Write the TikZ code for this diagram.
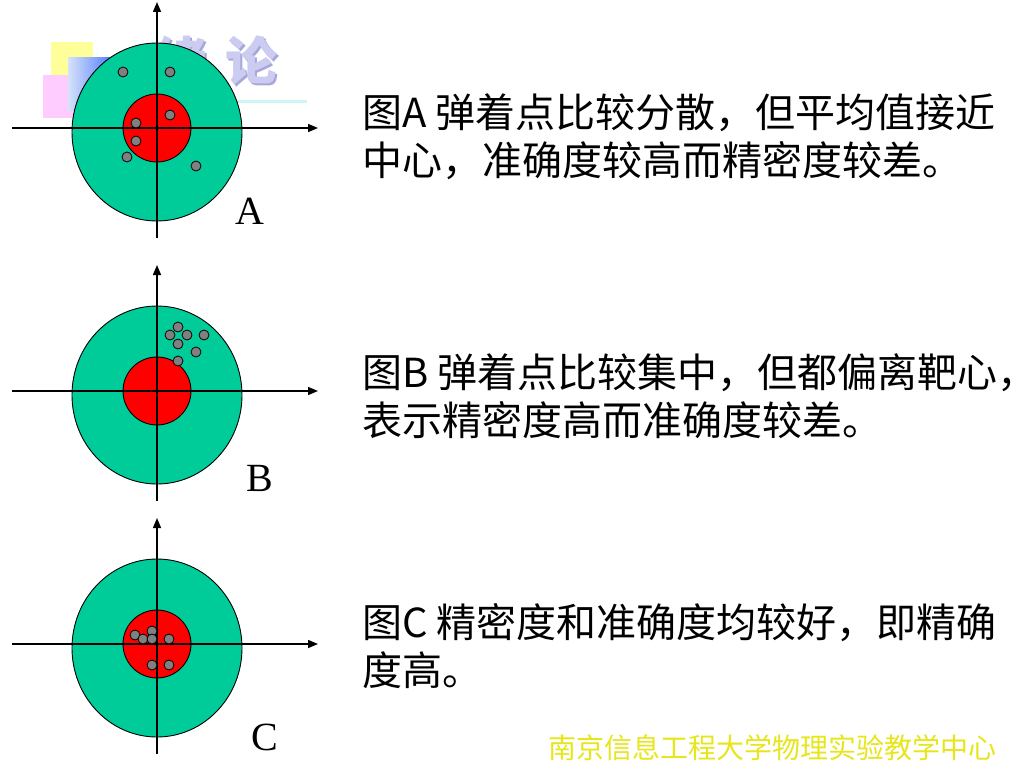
\documentclass[tikz,border=0pt]{standalone}
\usepackage{fontspec}
\setmainfont{Liberation Serif}
\newfontfamily\heiti{Noto Sans CJK SC}
\usepackage{xcolor}
\usetikzlibrary{arrows.meta,positioning}
\definecolor{ringgreen}{HTML}{00CC99}
\definecolor{bullred}{HTML}{FF0000}
\definecolor{holegray}{HTML}{808080}
\definecolor{logoyellow}{HTML}{FFFF99}
\definecolor{logopink}{HTML}{FFCCFF}
\definecolor{logoblue}{HTML}{3366FF}
\definecolor{logopale}{HTML}{D6E2FA}
\definecolor{logolilac}{HTML}{CCCCF2}
\definecolor{logoshade}{HTML}{A8A8D8}
\definecolor{logocyan}{HTML}{CCF5F5}
\definecolor{footyellow}{HTML}{E6E61A}
\tikzset{
  ring/.style={draw=black, line width=0.9pt, fill=ringgreen},
  bull/.style={draw=black, line width=0.9pt, fill=bullred},
  hole/.style={circle, draw=black, line width=0.8pt, fill=holegray, inner sep=0pt, minimum size=10pt},
  axis/.style={-{Stealth[length=10pt, width=8pt, inset=0pt]}, line width=1.4pt},
  tag/.style={font=\fontsize{40}{40}\selectfont, inner sep=0pt},
  say/.style={font=\heiti\fontsize{40}{40}\selectfont, anchor=base west, inner sep=0pt},
  foot/.style={font=\heiti\fontsize{28}{28}\selectfont, text=footyellow, anchor=base west, inner sep=0pt},
  logo/.style={font=\heiti\bfseries\fontsize{52}{52}\selectfont, anchor=base, inner sep=0pt},
}
% #1 name, #2 axis height, #3 place of the letter, #4 holes
\newcommand{\drawtarget}[4]{%
  \begin{scope}[shift={(157,#2)}]
    \filldraw[ring] (0,4) ellipse [x radius=85pt, y radius=89pt];
    \filldraw[bull] (0,0) circle [radius=34pt];
    \coordinate (#1-w) at (-145,0);
    \coordinate (#1-e) at (161,0);
    \coordinate (#1-s) at (0,110);
    \coordinate (#1-n) at (0,-126);
    \draw[axis] (#1-w) -- (#1-e);
    \draw[axis] (#1-s) -- (#1-n);
    \foreach \hx/\hy [count=\k] in {#4}
      \node[hole] (#1-hole\k) at (\hx,\hy) {};
    \node[tag] (#1-tag) at (#3) {#1};
  \end{scope}}

\begin{document}
\begin{tikzpicture}[x=1pt, y=-1pt]
\useasboundingbox (0,0) rectangle (1024,768);

% logo behind the first target
\fill[logoyellow] (51,42) rectangle (93,80);
\fill[logopink] (43,75) rectangle (86,118);
\shade[left color=logopale, right color=logoblue] (68,58) rectangle (122,110);
\fill[logocyan] (110,100) rectangle (307,103);
\node[logo, text=logoshade] (logoshadow1) at (182,82) {绪};
\node[logo, text=logolilac] (logotext1) at (180,80) {绪};
\node[logo, text=logoshade] (logoshadow2) at (253,82) {论};
\node[logo, text=logolilac] (logotext2) at (251,80) {论};

\drawtarget{A}{128}{93,83}{-34/-56, 13/-56, 13/-13, -21/-5, -21/13, -30/29, 39/38}
\drawtarget{B}{391}{103,87}{21/-64, 13/-56, 30/-56, 47/-56, 21/-47, 39/-39, 21/-30}
\drawtarget{C}{644}{108,93}{-22/-9, -14/-5, -5/-13, -5/-5, 12/-5, -5/21, 12/21}

\node[say] (textA1) at (362,127) {图A 弹着点比较分散，但平均值接近};
\node[say] (textA2) at (362,175) {中心，准确度较高而精密度较差。};
\node[say] (textB1) at (362,387) {图B 弹着点比较集中，但都偏离靶心，};
\node[say] (textB2) at (362,435) {表示精密度高而准确度较差。};
\node[say] (textC1) at (362,637) {图C 精密度和准确度均较好，即精确};
\node[say] (textC2) at (362,685) {度高。};

\node[foot] (school) at (548,758) {南京信息工程大学物理实验教学中心};
\end{tikzpicture}
\end{document}
